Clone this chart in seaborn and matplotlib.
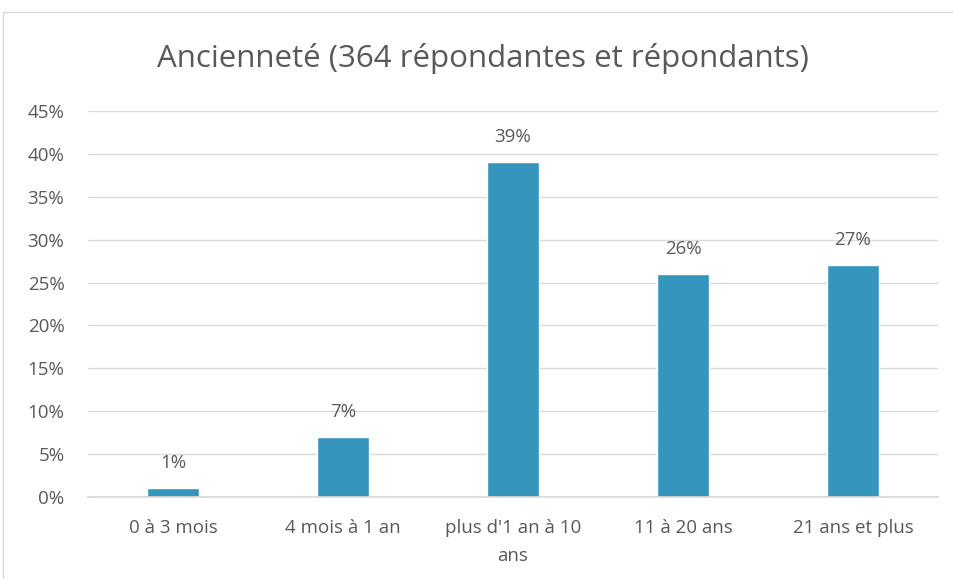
import matplotlib
matplotlib.use("Agg")
import matplotlib.pyplot as plt
import seaborn as sns
import pandas as pd
from matplotlib.patches import Rectangle

# data
categories = ["0 à 3 mois", "4 mois à 1 an", "plus d'1 an à 10\nans", "11 à 20 ans", "21 ans et plus"]
values = [1, 7, 39, 26, 27]
yticks = list(range(0, 50, 5))

df = pd.DataFrame({"cat": categories, "val": values})

sns.set_theme(style="white")
plt.rcParams["font.family"] = ["Open Sans", "DejaVu Sans"]
TXT = "#595959"

fig = plt.figure(figsize=(9.54, 5.79), dpi=100)
ax = fig.add_axes([88 / 954, 1 - 497 / 579, (938 - 88) / 954, (497 - 111) / 579])

sns.barplot(data=df, x="cat", y="val", color="#3595BC", saturation=1, width=0.31, ax=ax)

ax.set_ylim(0, 45)
ax.set_yticks(yticks)
ax.set_yticklabels([f"{t}%" for t in yticks])
ax.yaxis.grid(True, color="#D9D9D9", linewidth=1)
ax.set_axisbelow(True)
for s in ["top", "right", "left"]:
    ax.spines[s].set_visible(False)
ax.spines["bottom"].set_color("#D9D9D9")
ax.tick_params(axis="both", length=0, labelsize=13.5, colors=TXT)
ax.tick_params(axis="x", pad=16)
ax.tick_params(axis="y", pad=17)
for lbl in ax.get_xticklabels():
    lbl.set_linespacing(1.7)
ax.set_xlabel("")
ax.set_ylabel("")

for p, v in zip(ax.patches, values):
    ax.text(p.get_x() + p.get_width() / 2, v + 1.9, f"{v}%", ha="center", va="bottom",
            fontsize=13.5, color=TXT)

fig.text(483 / 954, 1 - 58 / 579, "Ancienneté (364 répondantes et répondants)", ha="center", va="center",
         fontsize=22.5, color=TXT)

# chart area border
fig.patches.append(Rectangle((3 / 954, -0.1), 1.1, 1 - 12 / 579 + 0.1, transform=fig.transFigure,
                             fill=False, edgecolor="#D9D9D9", linewidth=1))

fig.savefig("out.png", dpi=100)
